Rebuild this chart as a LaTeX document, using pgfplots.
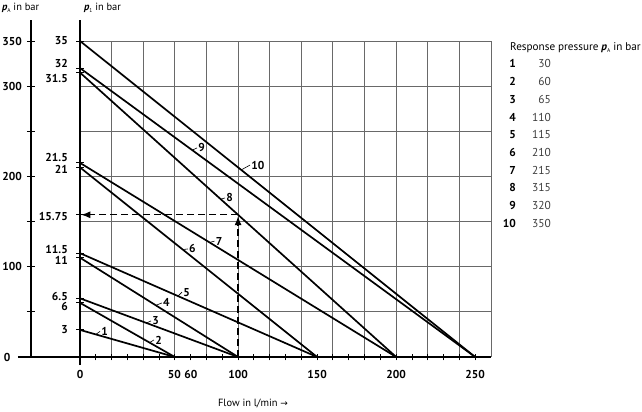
\documentclass[border=0pt]{standalone}
\usepackage{pgfplots}
\pgfplotsset{compat=1.18}
\usepackage{fontspec}
\setmainfont{PT Sans}
\newfontfamily\dejavu{DejaVu Sans}
\usetikzlibrary{arrows.meta}

\definecolor{gridgray}{RGB}{105,105,105}
\definecolor{valgray}{RGB}{60,60,60}
\newcommand{\ticklab}{\bfseries\fontsize{11.5}{12}\selectfont}
\newcommand{\sub}[1]{\raisebox{-1.5bp}{\fontsize{5.5}{6}\selectfont #1}}
\newcommand{\pvar}{{\bfseries\itshape p}}
% leader line and curve number, drawn inside the axis
\newcommand{\curvelabel}[5]{%
  \draw[line width=0.6bp] (axis cs:#1,#2) -- ++(#3bp,#4bp)
    node[anchor=west, inner sep=1bp, font=\ticklab]{#5};}

\begin{document}
\begin{tikzpicture}
\path[use as bounding box] (0,0) rectangle (642bp,412bp);

% outer scale p_A
\begin{axis}[
  at={(31bp,55bp)}, anchor=south west,
  scale only axis, width=10bp, height=316bp,
  xmin=0, xmax=1, ymin=0, ymax=350,
  axis x line=none, axis y line=left,
  axis line style={-, line width=1.8bp},
  y axis line style={shorten >=-21bp},
  ytick={0,50,...,350},
  yticklabels={\makebox[18bp][l]{0},,100,,200,,300,350},
  major tick length=8bp, tick align=center,
  tick style={black, line width=0.9bp},
  yticklabel style={font=\ticklab, inner sep=0pt, anchor=east, xshift=-5bp},
]
\end{axis}

% main chart p_1 over flow
\begin{axis}[
  at={(80bp,55bp)}, anchor=south west,
  scale only axis, width=411bp, height=316bp,
  xmin=0, xmax=260, ymin=0, ymax=35,
  clip=false,
  axis x line=bottom, axis y line=left,
  axis line style={-, line width=1.8bp},
  x axis line style={shorten <=-62bp},
  y axis line style={shorten <=-8bp, shorten >=-21bp},
  xtick={0,20,...,260}, xticklabels={},
  ytick={0,5,...,35}, yticklabels={},
  grid=major,
  major grid style={draw=gridgray, line width=0.9bp},
  major tick length=0pt,
  minor xtick={10,20,...,250},
  minor ytick={3,6,6.5,11,11.5,15.75,21,21.5,31.5,32,35},
  minor tick length=7bp,
  minor tick style={black, line width=0.9bp},
  tick align=center,
  extra x ticks={0,64.9,100,150,200,250},
  extra x tick labels={0,50\hspace{3.5bp}60,100,150,200,250},
  extra y ticks={35,32.55,30.9,22.15,20.8,15.6,11.95,10.65,6.65,5.55,3},
  extra y tick labels={35,32,31.5,21.5,21,15.75,11.5,11,6.5,6,3},
  extra tick style={grid=none, major tick length=0pt},
  xticklabel style={font=\ticklab, inner sep=0pt, anchor=north, yshift=-13bp},
  yticklabel style={font=\ticklab, inner sep=0pt, anchor=east, xshift=-12bp},
]
\addplot[black, line width=1.7bp] coordinates {(0,3) (60,0)};
\addplot[black, line width=1.7bp] coordinates {(0,6) (60,0)};
\addplot[black, line width=1.7bp] coordinates {(0,6.5) (100,0)};
\addplot[black, line width=1.7bp] coordinates {(0,11) (100,0)};
\addplot[black, line width=1.7bp] coordinates {(0,11.5) (150,0)};
\addplot[black, line width=1.7bp] coordinates {(0,21) (150,0)};
\addplot[black, line width=1.7bp] coordinates {(0,21.5) (200,0)};
\addplot[black, line width=1.7bp] coordinates {(0,31.5) (200,0)};
\addplot[black, line width=1.7bp] coordinates {(0,32) (250,0)};
\addplot[black, line width=1.7bp] coordinates {(0,35) (250,0)};

% reading example at 100 l/min
\addplot[black, line width=1.2bp, dash pattern=on 7bp off 4bp,
  -{Latex[length=9bp,width=7bp]}] coordinates {(100,15.75) (0.8,15.75)};
\addplot[black, line width=1.2bp, dash pattern=on 7bp off 4bp,
  -{Latex[length=9bp,width=7bp]}] coordinates {(100,0) (100,15.6)};

% curve numbers
\curvelabel{10}{2.5}{4.2}{3}{1}
\curvelabel{44}{1.6}{4.4}{2.6}{2}
\curvelabel{42}{3.77}{4.6}{2}{3}
\curvelabel{48}{5.72}{6}{2.4}{4}
\curvelabel{62}{6.747}{4}{4}{5}
\curvelabel{65}{11.9}{5}{0.6}{6}
\curvelabel{82}{12.685}{5}{1.4}{7}
\curvelabel{89}{17.4825}{4.3}{1.2}{8}
\curvelabel{71}{22.912}{4.8}{2.2}{9}
\curvelabel{102}{20.72}{8.8}{4.9}{10}
\end{axis}

% axis titles
\node[anchor=base west, inner sep=0pt, font=\fontsize{10.5}{12}\selectfont] at (2bp,401bp) {\pvar\sub{A} in bar};
\node[anchor=base west, inner sep=0pt, font=\fontsize{10.5}{12}\selectfont] at (84bp,401bp) {\pvar\sub{1} in bar};
\node[anchor=center, inner sep=0pt, font=\fontsize{10.5}{12}\selectfont] at (253bp,8bp) {Flow in l/min {\dejavu\fontsize{9}{10}\selectfont →}};

% response pressure table
\node[anchor=base west, inner sep=0pt, font=\fontsize{11.2}{12}\selectfont] at (510bp,361bp) {Response pressure \pvar\sub{A} in bar};
\foreach \n/\v [count=\i from 0] in {1/30,2/60,3/65,4/110,5/115,6/210,7/215,8/315,9/320,10/350}{
  \node[anchor=base east, inner sep=0pt, font=\ticklab] at (516bp,344bp-\i*17.7bp) {\n};
  \node[anchor=base east, inner sep=0pt, text=valgray, font=\fontsize{11.5}{12}\selectfont] at (551bp,344bp-\i*17.7bp) {\v};
}
\end{tikzpicture}
\end{document}
